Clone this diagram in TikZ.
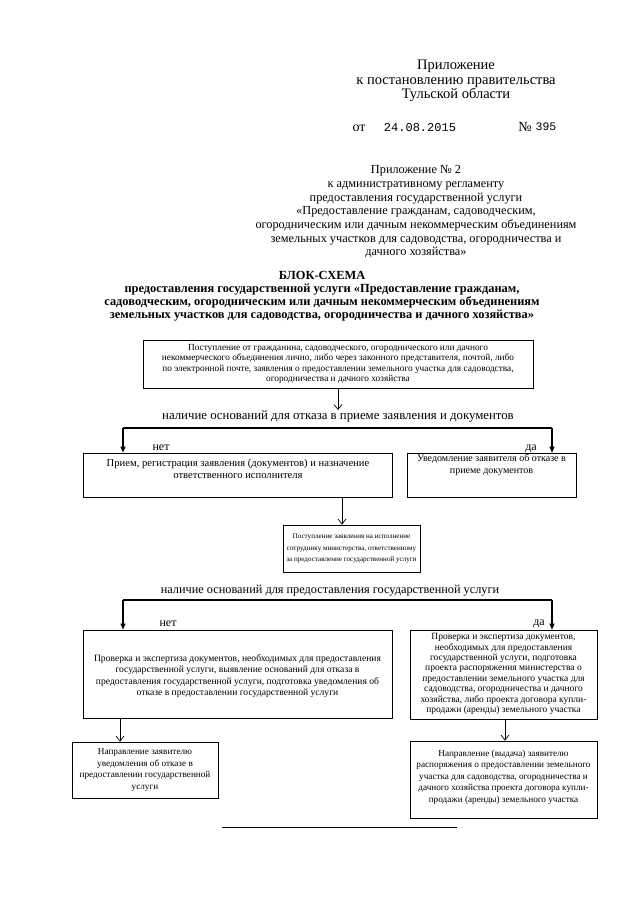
\documentclass[tikz,border=0pt]{standalone}
\usepackage{fontspec}
\setmainfont{Liberation Serif}
\newfontfamily\monofont{Liberation Mono}
\usetikzlibrary{arrows.meta,calc}
\tikzset{
  txt/.style={inner sep=0pt, align=center},
  boxbase/.style={draw, line width=0.8pt, inner sep=0pt},
  boxtxt/.style={inner sep=0pt, align=center},
  yesno/.style={inner sep=0pt, anchor=base, font=\fontsize{12}{12}\selectfont},
  openarr/.style={line width=0.7pt, -{Straight Barb[length=5pt,width=8pt]}},
  triarr/.style={line width=1.1pt, -{Triangle[length=6pt,width=5pt]}},
  branchline/.style={line width=1.1pt},
}
\begin{document}
\begin{tikzpicture}[x=1pt,y=-1pt]
\useasboundingbox[fill=white] (0,0) rectangle (640,905);

% header
\node[txt, font=\fontsize{14.5}{14.3}\selectfont] (hdr) at (456,81) {Приложение\\к постановлению правительства\\Тульской области};
\node[txt, anchor=base, font=\fontsize{14}{14}\selectfont] (ot) at (359,131) {от};
\node[txt, anchor=base, font=\monofont\fontsize{12}{12}\selectfont] (date) at (420,131) {24.08.2015};
\node[txt, anchor=base, font=\fontsize{14}{14}\selectfont] (no) at (525,131) {№};
\node[txt, anchor=base, font=\monofont\fontsize{11.5}{12}\selectfont] (num) at (546,130) {395};

\node[txt, font=\fontsize{12.3}{13.7}\selectfont] (app) at (416,212) {Приложение № 2\\к административному регламенту\\предоставления государственной услуги\\«Предоставление гражданам, садоводческим,\\огородническим или дачным некоммерческим объединениям\\земельных участков для садоводства, огородничества и\\дачного хозяйства»};

\node[txt, font=\bfseries\fontsize{12.4}{13}\selectfont] (title) at (322,296) {БЛОК-СХЕМА\\предоставления государственной услуги «Предоставление гражданам,\\садоводческим, огородническим или дачным некоммерческим объединениям\\земельных участков для садоводства, огородничества и дачного хозяйства»};

% box 1
\node[boxbase, minimum width=390, minimum height=48] (b1) at (338,364) {};
\node[boxtxt, font=\fontsize{9.3}{10.6}\selectfont] (b1t) at (b1.center) {Поступление от гражданина, садоводческого, огороднического или дачного\\некоммерческого объединения лично, либо через законного представителя, почтой, либо\\по электронной почте, заявления о предоставлении земельного участка для садоводства,\\огородничества и дачного хозяйства};

\node[txt, font=\fontsize{12.8}{13}\selectfont] (l1) at (338,416) {наличие оснований для отказа в приеме заявления и документов};
\draw[openarr] (b1.south) -- (l1.north);

\coordinate (br1L) at (123,428);
\coordinate (br1R) at (552,428);
\draw[branchline] (br1L) -- (br1R);

\node[yesno] (net1) at (161,450) {нет};
\node[yesno] (da1) at (531,450) {да};

% boxes 2
\node[boxbase, minimum width=309, minimum height=44] (b2l) at (237.5,475) {};
\node[boxtxt, font=\fontsize{10.6}{11.5}\selectfont] (b2lt) at (238,469) {Прием, регистрация заявления (документов) и назначение\\ответственного исполнителя};
\node[boxbase, minimum width=169, minimum height=44] (b2r) at (491.5,475) {};
\node[boxtxt, font=\fontsize{10}{11.5}\selectfont] (b2rt) at (491.5,465) {Уведомление заявителя об отказе в\\приеме документов};
\draw[triarr] (br1L) -- (br1L |- b2l.north);
\draw[triarr] (br1R) -- (br1R |- b2r.north);

% box 3
\node[boxbase, minimum width=137, minimum height=47] (b3) at (351.5,548.5) {};
\node[boxtxt, font=\fontsize{7.1}{11.5}\selectfont] (b3t) at (b3.center) {Поступление заявления на исполнение\\сотруднику министерства, ответственному\\за предоставление государственной услуги};
\coordinate (c23) at (342,500);
\draw[openarr] (c23 |- b2l.south) -- (c23 |- b3.north);

% label 2
\node[txt, font=\fontsize{12.3}{13}\selectfont] (l2) at (330,591) {наличие оснований для предоставления государственной услуги};
\coordinate (br2L) at (123,600);
\coordinate (br2R) at (552,600);
\draw[branchline] (br2L) -- (br2R);
\node[yesno] (net2) at (168,626) {нет};
\node[yesno] (da2) at (539,625) {да};

% box 4, box 5
\node[boxbase, minimum width=309, minimum height=88] (b4) at (237.5,674) {};
\node[boxtxt, font=\fontsize{9.6}{11.2}\selectfont] (b4t) at (237.5,676) {Проверка и экспертиза документов, необходимых для предоставления\\государственной услуги, выявление оснований для отказа в\\предоставления государственной услуги, подготовка уведомления об\\отказе в предоставлении государственной услуги};
\node[boxbase, minimum width=187, minimum height=89] (b5) at (503.5,674.5) {};
\node[boxtxt, font=\fontsize{9.5}{10.4}\selectfont] (b5t) at (503.5,674) {Проверка и экспертиза документов,\\необходимых для предоставления\\государственной услуги, подготовка\\проекта распоряжения министерства о\\предоставлении земельного участка для\\садоводства, огородничества и дачного\\хозяйства, либо проекта договора купли-\\продажи (аренды) земельного участка};
\draw[triarr] (br2L) -- (br2L |- b4.north);
\draw[triarr] (br2R) -- (br2R |- b5.north);

% box 6, box 7
\node[boxbase, minimum width=146, minimum height=56] (b6) at (145,770) {};
\node[boxtxt, font=\fontsize{9.2}{11.6}\selectfont] (b6t) at (b6.center) {Направление заявителю\\уведомления об отказе в\\предоставлении государственной\\услуги};
\node[boxbase, minimum width=187, minimum height=77] (b7) at (503.5,779.5) {};
\node[boxtxt, font=\fontsize{9.2}{11.6}\selectfont] (b7t) at (503.5,777) {Направление (выдача) заявителю\\распоряжения о предоставлении земельного\\участка для садоводства, огородничества и\\дачного хозяйства проекта договора купли-\\продажи (аренды) земельного участка};
\coordinate (c46) at (120,720);
\draw[openarr] (c46 |- b4.south) -- (c46 |- b6.north);
\coordinate (c57) at (505,720);
\draw[openarr] (c57 |- b5.south) -- (c57 |- b7.north);

% bottom line
\coordinate (ln1) at (222,827);
\coordinate (ln2) at (457,827);
\draw[line width=0.8pt] (ln1) -- (ln2);
\end{tikzpicture}
\end{document}
